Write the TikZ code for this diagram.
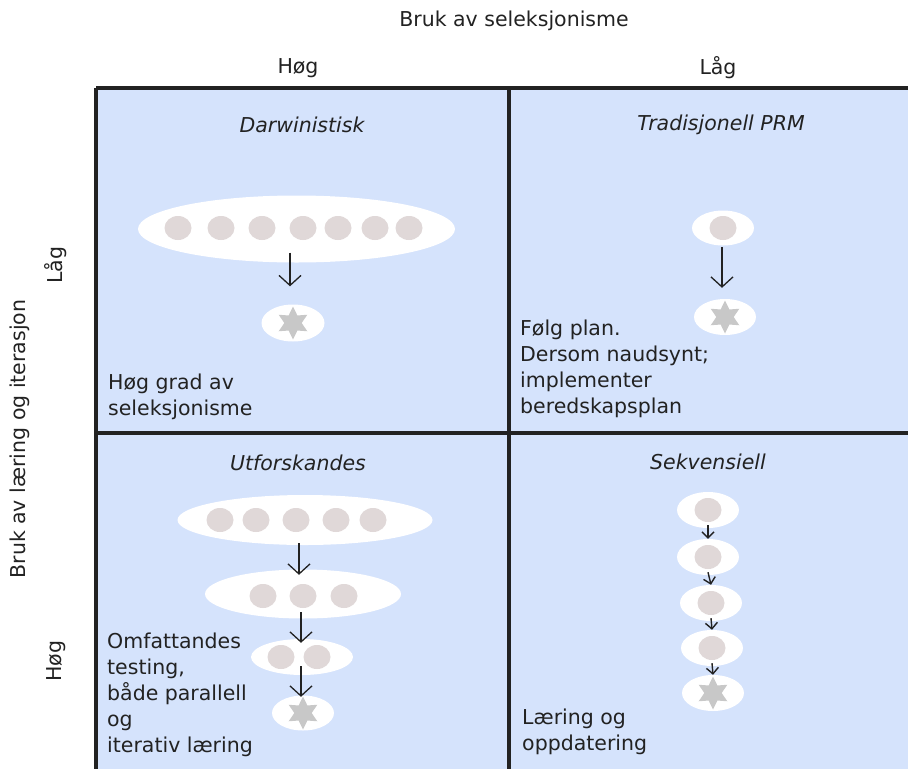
\documentclass[tikz,border=0pt]{standalone}
\usepackage{fontspec}
\setmainfont{DejaVu Sans}
\usetikzlibrary{shapes.geometric,arrows.meta}
\definecolor{panelblue}{RGB}{213,227,252}
\definecolor{gridline}{RGB}{34,34,34}
\definecolor{dotgrey}{RGB}{224,216,216}
\definecolor{stargrey}{RGB}{200,200,200}
\definecolor{ink}{RGB}{34,34,34}
\tikzset{
  txt/.style={font=\fontsize{20.5}{26}\selectfont, text=ink, inner sep=0pt},
  title/.style={txt, font=\fontsize{20.5}{26}\selectfont\itshape},
  note/.style={txt, align=left, anchor=west},
  pool/.style={ellipse, fill=white, draw=none, inner sep=0pt},
  dot/.style={ellipse, fill=dotgrey, draw=none, inner sep=0pt,
    minimum width=27pt, minimum height=24pt},
  goal/.style={star, star points=6, star point ratio=1.9, fill=stargrey,
    draw=none, inner sep=0pt, minimum size=33pt},
  arr/.style={draw=ink, line width=1.3pt,
    -{Straight Barb[length=10pt,width=22pt,line width=1.3pt]}},
  smallarr/.style={draw=ink, line width=1.4pt,
    -{Straight Barb[length=6pt,width=12pt,line width=1.4pt]}},
  grid/.style={draw=gridline, line width=3.5pt}
}
\begin{document}
\begin{tikzpicture}[x=1pt,y=-1pt]
\useasboundingbox (0,0) rectangle (908,769);

% panels and grid
\fill[panelblue] (96,88) rectangle (908,769);
\draw[grid] (96,88) -- (908,88);
\draw[grid] (96,88) -- (96,769);
\draw[grid] (509,88) -- (509,769);
\draw[grid] (96,433) -- (908,433);

% axis labels
\node[txt] (xaxis) at (514,21) {Bruk av seleksjonisme};
\node[txt] (xhigh) at (298,68) {Høg};
\node[txt] (xlow) at (718,68) {Låg};
\node[txt, rotate=90] (yaxis) at (20,439) {Bruk av læring og iterasjon};
\node[txt, rotate=90] (ylow) at (56,265) {Låg};
\node[txt, rotate=90] (yhigh) at (56,661) {Høg};

% Darwinistisk
\node[title] (t1) at (302,125) {Darwinistisk};
\node[pool, minimum width=317pt, minimum height=67pt] (d1) at (296.5,229) {};
\foreach \x [count=\i] in {178,221,262,303,338,375,409}
  \node[dot] (d1c\i) at (\x,228) {};
\node[pool, minimum width=63pt, minimum height=37pt] (d2) at (293,323) {};
\node[goal] (d2s) at (293,323) {};
\draw[arr] ([xshift=-6.5pt,yshift=10pt]d1.south) -- ([xshift=-3pt,yshift=18pt]d2.north);
\node[note] (n1) at (108,397) {Høg grad av\\seleksjonisme};

% Tradisjonell PRM
\node[title] (t2) at (721,125) {Tradisjonell PRM};
\node[pool, minimum width=62pt, minimum height=35pt] (p1) at (723,228) {};
\node[dot] (p1c) at (723,228) {};
\node[pool, minimum width=62pt, minimum height=36pt] (p2) at (725,317) {};
\node[goal] (p2s) at (725,317) {};
\draw[arr] ([xshift=-1pt,yshift=-1.5pt]p1.south) -- ([xshift=-3pt,yshift=11pt]p2.north);
\node[note] (n2) at (520,369) {Følg plan.\\Dersom naudsynt;\\implementer\\beredskapsplan};

% Utforskandes
\node[title] (t3) at (298,463) {Utforskandes};
\node[pool, minimum width=255pt, minimum height=50pt] (u1) at (305,520) {};
\foreach \x [count=\i] in {220,256,296,336,373}
  \node[dot] (u1c\i) at (\x,520) {};
\node[pool, minimum width=196pt, minimum height=49pt] (u2) at (303,594) {};
\foreach \x [count=\i] in {263,303,344}
  \node[dot] (u2c\i) at (\x,596) {};
\node[pool, minimum width=102pt, minimum height=36pt] (u3) at (302,657) {};
\foreach \x [count=\i] in {281,317}
  \node[dot] (u3c\i) at (\x,657) {};
\node[pool, minimum width=62pt, minimum height=35pt] (u4) at (303,713) {};
\node[goal] (u4s) at (303,713) {};
\draw[arr] ([xshift=-6pt,yshift=2pt]u1.south) -- ([xshift=-4pt,yshift=-5.5pt]u2.north);
\draw[arr] ([xshift=-2pt,yshift=6.5pt]u2.south) -- ([xshift=-1pt,yshift=-4pt]u3.north);
\draw[arr] ([xshift=-1pt,yshift=9pt]u3.south) -- ([xshift=-2pt,yshift=-1.5pt]u4.north);
\node[note] (n3) at (107,695) {Omfattandes\\testing,\\både parallell\\og\\iterativ læring};

% Sekvensiell
\node[title] (t4) at (708,462) {Sekvensiell};
\foreach \x/\y [count=\i] in {708/510,708/557,711/603,712/648}{
  \node[pool, minimum width=62pt, minimum height=36pt] (s\i) at (\x,\y) {};
  \node[dot] (s\i c) at (\x,\y) {};
}
\node[pool, minimum width=62pt, minimum height=36pt] (s5) at (713,693) {};
\node[goal] (s5s) at (713,693) {};
\draw[smallarr] ([yshift=3pt]s1.south) -- (s2.north);
\draw[smallarr] ([yshift=3pt]s2.south) -- (s3.north);
\draw[smallarr] ([yshift=3pt]s3.south) -- (s4.north);
\draw[smallarr] ([yshift=3pt]s4.south) -- (s5.north);
\node[note] (n4) at (522,732) {Læring og\\oppdatering};
\end{tikzpicture}
\end{document}
